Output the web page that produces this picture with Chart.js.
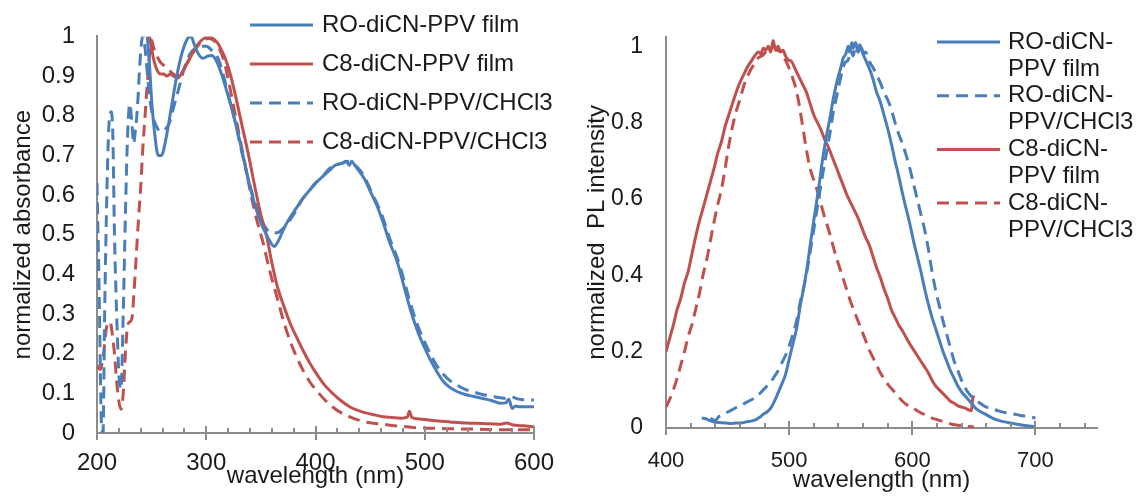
<!DOCTYPE html>
<html>
<head>
<meta charset="utf-8">
<script src="https://cdn.jsdelivr.net/npm/chart.js@4.4.1/dist/chart.umd.min.js"></script>
<style>
  html, body { margin: 0; padding: 0; background: #fff; }
  #wrap { position: relative; width: 1140px; height: 496px; overflow: hidden; }
  canvas { position: absolute; top: 0; }
  #absChart { left: 0; }
  #plChart { left: 580px; }
</style>
</head>
<body>
<div id="wrap">
  <canvas id="absChart" width="580" height="496"></canvas>
  <canvas id="plChart" width="560" height="496"></canvas>
</div>
<script>
// ---- absorbance panel: [wavelength nm, normalized absorbance] ----
const absRoFilm = [[246,1.0],[248,0.93],[250,0.84],[253,0.75],[256,0.70],[259,0.70],[263,0.74],[268,0.82],[273,0.90],[278,0.96],
  [283,0.995],[286,1.0],[289,0.98],[293,0.955],[297,0.945],[301,0.95],[305,0.952],[309,0.94],[314,0.905],[320,0.85],
  [326,0.79],[332,0.72],[338,0.645],[344,0.58],[350,0.53],[355,0.50],[359,0.48],[362,0.47],[364,0.475],[367,0.49],
  [371,0.515],[376,0.54],[382,0.565],[388,0.59],[394,0.61],[400,0.63],[406,0.645],[412,0.66],[418,0.675],[424,0.68],
  [428,0.685],[431,0.675],[433,0.685],[436,0.675],[440,0.66],[445,0.64],[450,0.61],[456,0.575],[462,0.53],[468,0.48],
  [475,0.43],[481,0.37],[487,0.31],[493,0.26],[499,0.22],[505,0.185],[511,0.155],[517,0.13],[523,0.115],[530,0.104],
  [537,0.097],[545,0.092],[553,0.087],[561,0.082],[569,0.075],[574,0.076],[577,0.085],[580,0.062],[583,0.068],[587,0.066],
  [593,0.066],[600,0.066]];

const absC8Film = [[248,1.0],[250,0.97],[252,0.94],[255,0.915],[258,0.905],[261,0.905],[264,0.9],[267,0.905],[270,0.9],[274,0.895],
  [278,0.91],[282,0.93],[286,0.95],[290,0.97],[294,0.985],[298,0.995],[302,1.0],[306,0.995],[310,0.985],[314,0.965],
  [318,0.94],[322,0.905],[326,0.86],[330,0.81],[334,0.76],[338,0.71],[342,0.655],[346,0.6],[350,0.55],[355,0.5],
  [360,0.43],[365,0.37],[371,0.32],[377,0.275],[383,0.24],[389,0.206],[395,0.175],[401,0.149],[408,0.122],[416,0.099],
  [424,0.08],[432,0.065],[440,0.056],[447,0.05],[455,0.045],[462,0.041],[470,0.039],[478,0.037],[484,0.04],[486,0.055],
  [488,0.04],[493,0.036],[500,0.034],[510,0.031],[523,0.028],[538,0.025],[553,0.024],[568,0.022],[575,0.025],[580,0.021],
  [590,0.018],[600,0.016]];

const absRoSol = [[200,0.63],[202,0.35],[204,0.03],[205.5,0.0],[207,0.3],[209,0.6],[211,0.78],[213,0.81],[214.5,0.75],[216,0.5],
  [218,0.3],[220,0.15],[222,0.11],[224,0.3],[226,0.55],[228,0.75],[230,0.83],[232,0.78],[233.5,0.73],[235,0.76],
  [237,0.82],[239,0.92],[241,0.99],[242.5,1.0],[244,0.97],[246,0.91],[248,0.85],[251,0.8],[255,0.77],[258,0.76],
  [262,0.765],[266,0.78],[270,0.82],[275,0.87],[280,0.92],[285,0.955],[290,0.97],[295,0.975],[300,0.975],[305,0.965],
  [310,0.95],[315,0.91],[320,0.855],[326,0.79],[332,0.715],[338,0.645],[344,0.585],[350,0.54],[355,0.515],[360,0.505],
  [365,0.505],[370,0.515],[376,0.535],[382,0.56],[388,0.59],[394,0.61],[400,0.63],[406,0.645],[412,0.665],[418,0.675],
  [424,0.68],[430,0.685],[436,0.675],[440,0.665],[445,0.645],[450,0.615],[456,0.58],[462,0.54],[468,0.49],[475,0.44],
  [481,0.385],[487,0.325],[493,0.275],[499,0.235],[505,0.2],[511,0.17],[517,0.148],[523,0.132],[530,0.12],[537,0.11],
  [545,0.103],[553,0.097],[561,0.093],[569,0.089],[575,0.087],[580,0.09],[585,0.086],[590,0.084],[600,0.083]];

const absC8Sol = [[200,0.17],[203,0.16],[206,0.2],[209,0.27],[212,0.28],[214,0.25],[216,0.2],[218,0.13],[220,0.08],[222,0.06],
  [224,0.1],[226,0.2],[228,0.27],[230,0.28],[232,0.29],[234,0.36],[236,0.45],[238,0.54],[240,0.62],[242,0.72],
  [244,0.8],[246,0.88],[248,0.95],[250,0.99],[252,0.97],[255,0.95],[258,0.935],[262,0.925],[266,0.915],[270,0.905],
  [273,0.9],[277,0.905],[282,0.93],[287,0.955],[292,0.975],[297,0.99],[302,0.995],[307,0.99],[311,0.975],[316,0.94],
  [321,0.88],[326,0.81],[331,0.74],[336,0.67],[341,0.6],[346,0.54],[352,0.48],[358,0.41],[365,0.34],[371,0.28],
  [377,0.23],[383,0.19],[389,0.156],[395,0.128],[401,0.107],[408,0.085],[416,0.065],[424,0.05],[432,0.04],[440,0.032],
  [447,0.027],[455,0.024],[462,0.022],[470,0.019],[478,0.017],[486,0.015],[493,0.013],[505,0.012],[520,0.011],[540,0.01],
  [560,0.009],[580,0.008],[600,0.008]];

// ---- PL panel: [wavelength nm, normalized PL intensity] ----
const plRoFilm = [[429,0.026],[432,0.025],[435,0.02],[438,0.017],[441,0.015],[445,0.014],[449,0.013],[453,0.012],[457,0.013],[461,0.013],
  [465,0.016],[469,0.018],[473,0.022],[476,0.028],[479,0.036],[482,0.042],[485,0.052],[488,0.07],[491,0.092],[494,0.115],
  [497,0.14],[500,0.18],[503,0.22],[506,0.26],[509,0.32],[512,0.37],[515,0.43],[518,0.5],[521,0.565],[524,0.63],
  [527,0.7],[530,0.76],[533,0.81],[536,0.865],[539,0.91],[542,0.945],[544,0.97],[546,0.98],[548,1.0],[549,0.985],
  [551,1.01],[552,0.995],[554,1.01],[556,0.985],[558,1.0],[560,0.98],[562,0.965],[564,0.95],[566,0.935],[568,0.915],
  [571,0.88],[574,0.855],[577,0.82],[580,0.785],[583,0.745],[586,0.7],[589,0.66],[592,0.615],[595,0.575],[598,0.535],
  [601,0.49],[604,0.45],[607,0.41],[610,0.365],[613,0.325],[616,0.29],[619,0.26],[622,0.23],[625,0.2],[628,0.175],
  [631,0.15],[634,0.13],[637,0.11],[640,0.095],[644,0.08],[648,0.065],[652,0.05],[656,0.042],[660,0.035],[665,0.026],
  [670,0.02],[675,0.016],[680,0.013],[685,0.01],[690,0.007],[695,0.005],[700,0.003]];

const plRoSol = [[436,0.025],[440,0.02],[443,0.03],[446,0.035],[449,0.04],[452,0.045],[455,0.05],[458,0.055],[461,0.057],[464,0.065],
  [467,0.07],[470,0.075],[473,0.085],[476,0.09],[479,0.1],[482,0.11],[485,0.12],[488,0.135],[491,0.15],[494,0.17],
  [497,0.19],[500,0.215],[503,0.245],[506,0.28],[509,0.33],[512,0.37],[515,0.42],[518,0.48],[521,0.54],[524,0.6],
  [527,0.66],[530,0.715],[533,0.77],[536,0.83],[539,0.875],[542,0.92],[545,0.955],[548,0.965],[550,0.99],[552,0.975],
  [554,1.0],[556,0.985],[558,1.01],[560,0.98],[562,0.985],[564,0.97],[566,0.955],[568,0.945],[571,0.925],[574,0.905],
  [577,0.88],[580,0.86],[583,0.835],[586,0.8],[589,0.77],[592,0.745],[595,0.715],[598,0.68],[601,0.64],[604,0.6],
  [607,0.56],[610,0.52],[613,0.47],[616,0.41],[619,0.36],[622,0.32],[625,0.28],[628,0.245],[631,0.21],[634,0.175],
  [637,0.15],[640,0.125],[643,0.105],[646,0.09],[649,0.08],[652,0.072],[656,0.063],[660,0.055],[665,0.05],[670,0.045],
  [676,0.04],[682,0.037],[688,0.033],[694,0.03],[700,0.026]];

const plC8Film = [[400,0.2],[403,0.235],[406,0.27],[409,0.31],[412,0.34],[415,0.38],[418,0.41],[421,0.455],[424,0.5],[427,0.54],
  [430,0.575],[433,0.61],[436,0.645],[439,0.68],[442,0.72],[445,0.75],[448,0.79],[451,0.82],[454,0.85],[457,0.88],
  [460,0.905],[463,0.925],[466,0.945],[469,0.96],[472,0.975],[475,0.985],[477,0.98],[479,0.995],[481,0.99],[483,1.0],
  [485,0.985],[487,1.015],[489,0.99],[491,1.0],[493,0.985],[495,0.99],[497,0.975],[499,0.965],[502,0.96],[505,0.94],
  [508,0.92],[511,0.9],[514,0.88],[517,0.85],[520,0.82],[523,0.8],[526,0.78],[529,0.755],[532,0.735],[535,0.71],
  [538,0.685],[541,0.66],[544,0.635],[547,0.61],[550,0.59],[553,0.57],[556,0.55],[559,0.525],[562,0.5],[565,0.48],
  [568,0.45],[571,0.42],[574,0.395],[577,0.365],[580,0.34],[583,0.31],[586,0.29],[589,0.27],[592,0.255],[595,0.237],
  [598,0.22],[601,0.205],[604,0.19],[607,0.175],[610,0.16],[613,0.145],[616,0.125],[619,0.11],[622,0.1],[625,0.09],
  [628,0.08],[631,0.07],[634,0.065],[637,0.058],[640,0.055],[643,0.052],[646,0.047],[648,0.045],[649,0.075],[650,0.085]];

const plC8Sol = [[400,0.055],[403,0.075],[406,0.1],[409,0.13],[412,0.165],[415,0.2],[418,0.24],[421,0.27],[424,0.31],[427,0.35],
  [430,0.4],[433,0.44],[436,0.49],[439,0.54],[442,0.585],[445,0.625],[448,0.68],[451,0.74],[454,0.79],[457,0.83],
  [460,0.86],[463,0.895],[466,0.92],[469,0.94],[472,0.955],[475,0.97],[478,0.975],[481,0.985],[484,0.99],[487,1.0],
  [490,0.99],[493,0.985],[496,0.97],[499,0.95],[502,0.925],[505,0.895],[508,0.85],[511,0.79],[514,0.73],[517,0.68],
  [520,0.65],[523,0.62],[526,0.585],[529,0.55],[532,0.52],[535,0.485],[538,0.45],[541,0.42],[544,0.39],[547,0.36],
  [550,0.33],[553,0.305],[556,0.28],[559,0.255],[562,0.23],[565,0.205],[568,0.185],[571,0.165],[574,0.145],[577,0.13],
  [580,0.115],[584,0.1],[588,0.085],[592,0.07],[596,0.06],[600,0.055],[604,0.045],[608,0.038],[612,0.032],[616,0.026],
  [620,0.022],[624,0.018],[628,0.014],[632,0.01],[636,0.008],[640,0.006],[645,0.004],[650,0.003]];

const BLUE = '#4a7ebb';
const RED = '#c0504d';
const AXIS_GREY = '#8c8c8c';
const DASH = [12, 7];

Chart.defaults.font.family = '"Liberation Sans", Arial, sans-serif';
Chart.defaults.color = '#1a1a1a';

// minor ticks every 20 nm (inside), major every 100 nm (crossing the axis)
const axisTicks = {
  id: 'axisTicks',
  afterDraw(chart) {
    const s = chart.scales.x;
    const y0 = chart.chartArea.bottom;
    const ctx = chart.ctx;
    ctx.save();
    ctx.strokeStyle = AXIS_GREY;
    ctx.lineWidth = 2;
    ctx.beginPath();
    for (let v = Math.ceil(s.min / 20) * 20; v <= s.max; v += 20) {
      const x = Math.round(s.getPixelForValue(v));
      const major = v % 100 === 0;
      ctx.moveTo(x, major ? y0 - 7 : y0 - 5);
      ctx.lineTo(x, major ? y0 + 7 : y0);
    }
    ctx.stroke();
    ctx.restore();
  }
};

// legend drawn inside the plot, like the original
const inlineLegend = {
  id: 'inlineLegend',
  afterDraw(chart, args, opts) {
    const ctx = chart.ctx;
    ctx.save();
    ctx.font = opts.font;
    ctx.textBaseline = 'middle';
    ctx.fillStyle = '#1a1a1a';
    opts.items.forEach((it, i) => {
      const y = opts.y + i * opts.step;
      ctx.strokeStyle = it.color;
      ctx.lineWidth = 3;
      ctx.setLineDash(it.dashed ? DASH : []);
      ctx.beginPath();
      ctx.moveTo(opts.x0, y);
      ctx.lineTo(opts.x1, y);
      ctx.stroke();
      ctx.setLineDash([]);
      [].concat(it.text).forEach((t, k) => ctx.fillText(t, opts.tx, y + k * opts.lineStep));
    });
    ctx.restore();
  }
};

function toPoints(arr) {
  return arr.map(p => ({ x: p[0], y: p[1] }));
}

function makeDataset(label, arr, color, dashed) {
  return {
    label,
    data: toPoints(arr),
    borderColor: color,
    backgroundColor: color,
    borderWidth: 3,
    borderDash: dashed ? DASH : [],
    pointRadius: 0,
    cubicInterpolationMode: 'monotone',
    fill: false
  };
}

function buildChart(id, datasets, o) {
  return new Chart(document.getElementById(id), {
    type: 'line',
    data: { datasets },
    plugins: [axisTicks, inlineLegend],
    options: {
      responsive: false,
      animation: false,
      layout: { padding: { top: o.top, right: o.right, left: 0, bottom: 0 } },
      plugins: {
        legend: { display: false },
        tooltip: { enabled: false },
        inlineLegend: o.legend
      },
      scales: {
        x: {
          type: 'linear',
          min: o.xMin,
          max: o.xMax,
          grid: { display: false, drawTicks: false },
          border: { display: true, color: AXIS_GREY, width: 2 },
          ticks: {
            stepSize: 20,
            autoSkip: false,
            maxRotation: 0,
            padding: o.xPad,
            font: { size: o.xTickSize },
            callback: v => (v % 100 === 0 ? String(v) : '')
          },
          title: {
            display: true,
            text: 'wavelength (nm)',
            font: { size: 24 },
            padding: { top: 0, bottom: o.xTitlePad }
          },
          afterFit: s => { s.height = o.xHeight; }
        },
        y: {
          min: 0,
          max: o.yMax,
          grid: { display: false, drawTicks: false },
          border: { display: true, color: AXIS_GREY, width: 2 },
          ticks: {
            stepSize: o.yStep,
            includeBounds: false,
            padding: o.yPad,
            font: { size: o.yTickSize },
            callback: v => String(Number(v.toFixed(2)))
          },
          title: {
            display: true,
            text: o.yTitle,
            font: { size: 24 },
            padding: { top: o.yTitlePad, bottom: 0 }
          },
          afterFit: s => { s.width = o.yWidth; }
        }
      }
    }
  });
}

buildChart('absChart', [
  makeDataset('RO-diCN-PPV film', absRoFilm, BLUE, false),
  makeDataset('C8-diCN-PPV film', absC8Film, RED, false),
  makeDataset('RO-diCN-PPV/CHCl3', absRoSol, BLUE, true),
  makeDataset('C8-diCN-PPV/CHCl3', absC8Sol, RED, true)
], {
  top: 30, right: 46, xHeight: 63, yWidth: 97,
  xMin: 200, xMax: 600, yMax: 1, yStep: 0.1,
  xPad: 16, yPad: 22, xTickSize: 24, yTickSize: 24,
  xTitlePad: 5, yTitlePad: 9,
  yTitle: 'normalized absorbance',
  legend: {
    font: '24px "Liberation Sans", Arial, sans-serif',
    x0: 250, x1: 313, tx: 322, y: 25, step: 39, lineStep: 0,
    items: [
      { text: 'RO-diCN-PPV film', color: BLUE, dashed: false },
      { text: 'C8-diCN-PPV film', color: RED, dashed: false },
      { text: 'RO-diCN-PPV/CHCl3', color: BLUE, dashed: true },
      { text: 'C8-diCN-PPV/CHCl3', color: RED, dashed: true }
    ]
  }
});

buildChart('plChart', [
  makeDataset('RO-diCN-PPV film', plRoFilm, BLUE, false),
  makeDataset('RO-diCN-PPV/CHCl3', plRoSol, BLUE, true),
  makeDataset('C8-diCN-PPV film', plC8Film, RED, false),
  makeDataset('C8-diCN-PPV/CHCl3', plC8Sol, RED, true)
], {
  top: 35, right: 43, xHeight: 68, yWidth: 86,
  xMin: 400, xMax: 750, yMax: 1.025, yStep: 0.2,
  xPad: 20, yPad: 23, xTickSize: 22, yTickSize: 23,
  xTitlePad: 1, yTitlePad: 3,
  yTitle: 'normalized  PL intensity',
  legend: {
    font: '24px "Liberation Sans", Arial, sans-serif',
    x0: 357, x1: 420, tx: 428, y: 42, step: 53.7, lineStep: 27,
    items: [
      { text: ['RO-diCN-', 'PPV film'], color: BLUE, dashed: false },
      { text: ['RO-diCN-', 'PPV/CHCl3'], color: BLUE, dashed: true },
      { text: ['C8-diCN-', 'PPV film'], color: RED, dashed: false },
      { text: ['C8-diCN-', 'PPV/CHCl3'], color: RED, dashed: true }
    ]
  }
});
</script>
</body>
</html>
